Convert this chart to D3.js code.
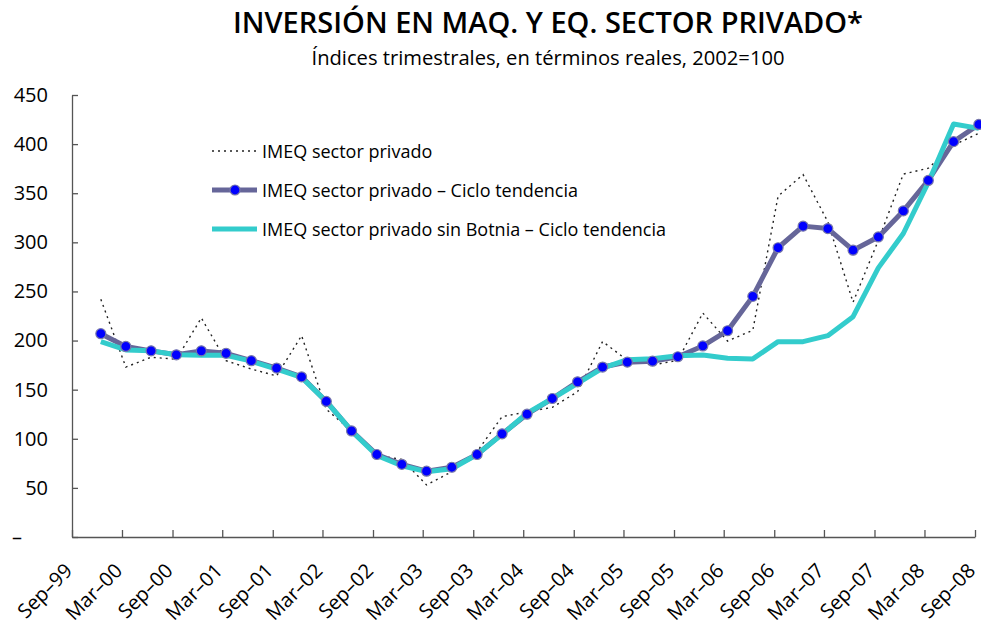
<!DOCTYPE html>
<html>
<head>
<meta charset="utf-8">
<script src="https://cdn.jsdelivr.net/npm/d3@7"></script>
<style>
  body { margin: 0; background: #fff; }
  svg { display: block; font-family: "Open Sans", sans-serif; }
</style>
</head>
<body>
<svg id="chart" width="981" height="635"></svg>
<script>
// quarters (end month of each quarter)
var quarters = ["Dec-99","Mar-00","Jun-00","Sep-00","Dec-00","Mar-01","Jun-01","Sep-01",
  "Dec-01","Mar-02","Jun-02","Sep-02","Dec-02","Mar-03","Jun-03","Sep-03","Dec-03","Mar-04",
  "Jun-04","Sep-04","Dec-04","Mar-05","Jun-05","Sep-05","Dec-05","Mar-06","Jun-06","Sep-06",
  "Dec-06","Mar-07","Jun-07","Sep-07","Dec-07","Mar-08","Jun-08","Sep-08"];

// IMEQ sector privado (raw)
var imeq = [242,173,183,181,223,179.5,171,164,205,130,108,83,79,53,66.5,87,122.5,127.5,
  132,148,199,180,175,180,228,199.5,210.5,347,369,321,239,302,369.5,375.5,399,411];

// IMEQ sector privado - ciclo tendencia
var imeqTrend = [207,194,189.5,185.5,189.5,187,179.5,172,163,138,108,84,74,67,71,84,105,125,
  141,158,173,178,179,183.5,194.5,210,245,294.5,316.5,314,292,305.5,332,363,402.5,420];

// IMEQ sector privado sin Botnia - ciclo tendencia
var imeqSinBotnia = [199,190.5,189.5,185.5,185,185,179,171,162.5,138,108,83,72.5,66.5,69.5,84,
  104.5,126,141,156.5,172,180.5,181.5,184.5,185.3,182,181.3,198.9,198.9,205,224.3,274,309,361,
  420.5,416];

var xTickLabels = ["Sep-99","Mar-00","Sep-00","Mar-01","Sep-01","Mar-02","Sep-02","Mar-03",
  "Sep-03","Mar-04","Sep-04","Mar-05","Sep-05","Mar-06","Sep-06","Mar-07","Sep-07","Mar-08","Sep-08"];
var yTicks = [0,50,100,150,200,250,300,350,400,450];

var legendLabels = ["IMEQ sector privado",
  "IMEQ sector privado \u2013 Ciclo tendencia",
  "IMEQ sector privado sin Botnia \u2013 Ciclo tendencia"];

var parseMonth = d3.timeParse("%b-%y");
// data points sit mid-month
function qDate(s) { var d = parseMonth(s); d.setDate(15); return d; }

var svg = d3.select("#chart");
var axisColor = "#555";

var x = d3.scaleTime()
  .domain([parseMonth(xTickLabels[0]), parseMonth(xTickLabels[xTickLabels.length - 1])])
  .range([72, 975]);
var y = d3.scaleLinear().domain([0, 450]).range([537, 95]);

// titles
svg.append("text")
  .attr("x", 548).attr("y", 33)
  .attr("text-anchor", "middle")
  .attr("font-size", 28).attr("font-weight", 600)
  .attr("textLength", 630).attr("lengthAdjust", "spacingAndGlyphs")
  .text("INVERSIÓN EN MAQ. Y EQ. SECTOR PRIVADO*");
svg.append("text")
  .attr("x", 548).attr("y", 65)
  .attr("text-anchor", "middle")
  .attr("font-size", 20).attr("font-weight", 500)
  .attr("textLength", 473).attr("lengthAdjust", "spacingAndGlyphs")
  .text("Índices trimestrales, en términos reales, 2002=100");

// y axis
var yAxis = svg.append("g")
  .attr("transform", "translate(72,0)")
  .call(d3.axisLeft(y).tickValues(yTicks).tickSize(-6).tickSizeOuter(0).tickPadding(24)
    .tickFormat(function(d) { return d === 0 ? "\u2013" : d; }));
yAxis.selectAll("text").attr("font-size", 20).attr("fill", "#000").attr("font-family", "Open Sans");
yAxis.selectAll("text").filter(function(d) { return d === 0; })
  .attr("text-anchor", "start").attr("x", -60);
yAxis.selectAll("line, path").attr("stroke", axisColor).attr("stroke-width", 1.3);

// x axis
var xAxis = svg.append("g")
  .attr("transform", "translate(0,537)")
  .call(d3.axisBottom(x).tickValues(xTickLabels.map(parseMonth)).tickSize(-7).tickSizeOuter(0)
    .tickFormat(d3.timeFormat("%b\u2013%y")));
xAxis.selectAll("line, path").attr("stroke", axisColor).attr("stroke-width", 1.3);
xAxis.selectAll("text")
  .attr("font-size", 20).attr("fill", "#000").attr("font-family", "Open Sans")
  .attr("text-anchor", "end")
  .attr("x", 0).attr("y", 0).attr("dy", 0)
  .attr("transform", "translate(1,35) rotate(-45)");

var line = function(vals) {
  return d3.line()
    .x(function(d, i) { return x(qDate(quarters[i])); })
    .y(function(d) { return y(d); })(vals);
};

// raw series, dotted
svg.append("path")
  .attr("d", line(imeq))
  .attr("fill", "none").attr("stroke", "#222").attr("stroke-width", 1.4)
  .attr("stroke-dasharray", "2,4");

// trend
svg.append("path")
  .attr("d", line(imeqTrend))
  .attr("fill", "none").attr("stroke", "#666699").attr("stroke-width", 5)
  .attr("stroke-linejoin", "round");

// sin Botnia
svg.append("path")
  .attr("d", line(imeqSinBotnia))
  .attr("fill", "none").attr("stroke", "#33cccc").attr("stroke-width", 5)
  .attr("stroke-linejoin", "round");

svg.append("g").selectAll("circle")
  .data(imeqTrend)
  .enter().append("circle")
    .attr("cx", function(d, i) { return x(qDate(quarters[i])); })
    .attr("cy", function(d) { return y(d); })
    .attr("r", 5)
    .attr("fill", "#0000ff")
    .attr("stroke", "#7777aa").attr("stroke-width", 1.2);

// legend
var lg = svg.append("g");
var ly = [151, 190, 229];
lg.append("line").attr("x1", 212).attr("x2", 257).attr("y1", ly[0]).attr("y2", ly[0])
  .attr("stroke", "#222").attr("stroke-width", 1.4).attr("stroke-dasharray", "2,4");
lg.append("line").attr("x1", 212).attr("x2", 257).attr("y1", ly[1]).attr("y2", ly[1])
  .attr("stroke", "#666699").attr("stroke-width", 5);
lg.append("circle").attr("cx", 235).attr("cy", ly[1]).attr("r", 5)
  .attr("fill", "#0000ff").attr("stroke", "#7777aa").attr("stroke-width", 1.2);
lg.append("line").attr("x1", 212).attr("x2", 257).attr("y1", ly[2]).attr("y2", ly[2])
  .attr("stroke", "#33cccc").attr("stroke-width", 5);
lg.selectAll("text").data(legendLabels).enter().append("text")
  .attr("x", 262).attr("y", function(d, i) { return ly[i] + 7; })
  .attr("font-size", 18)
  .text(function(d) { return d; });
</script>
</body>
</html>
